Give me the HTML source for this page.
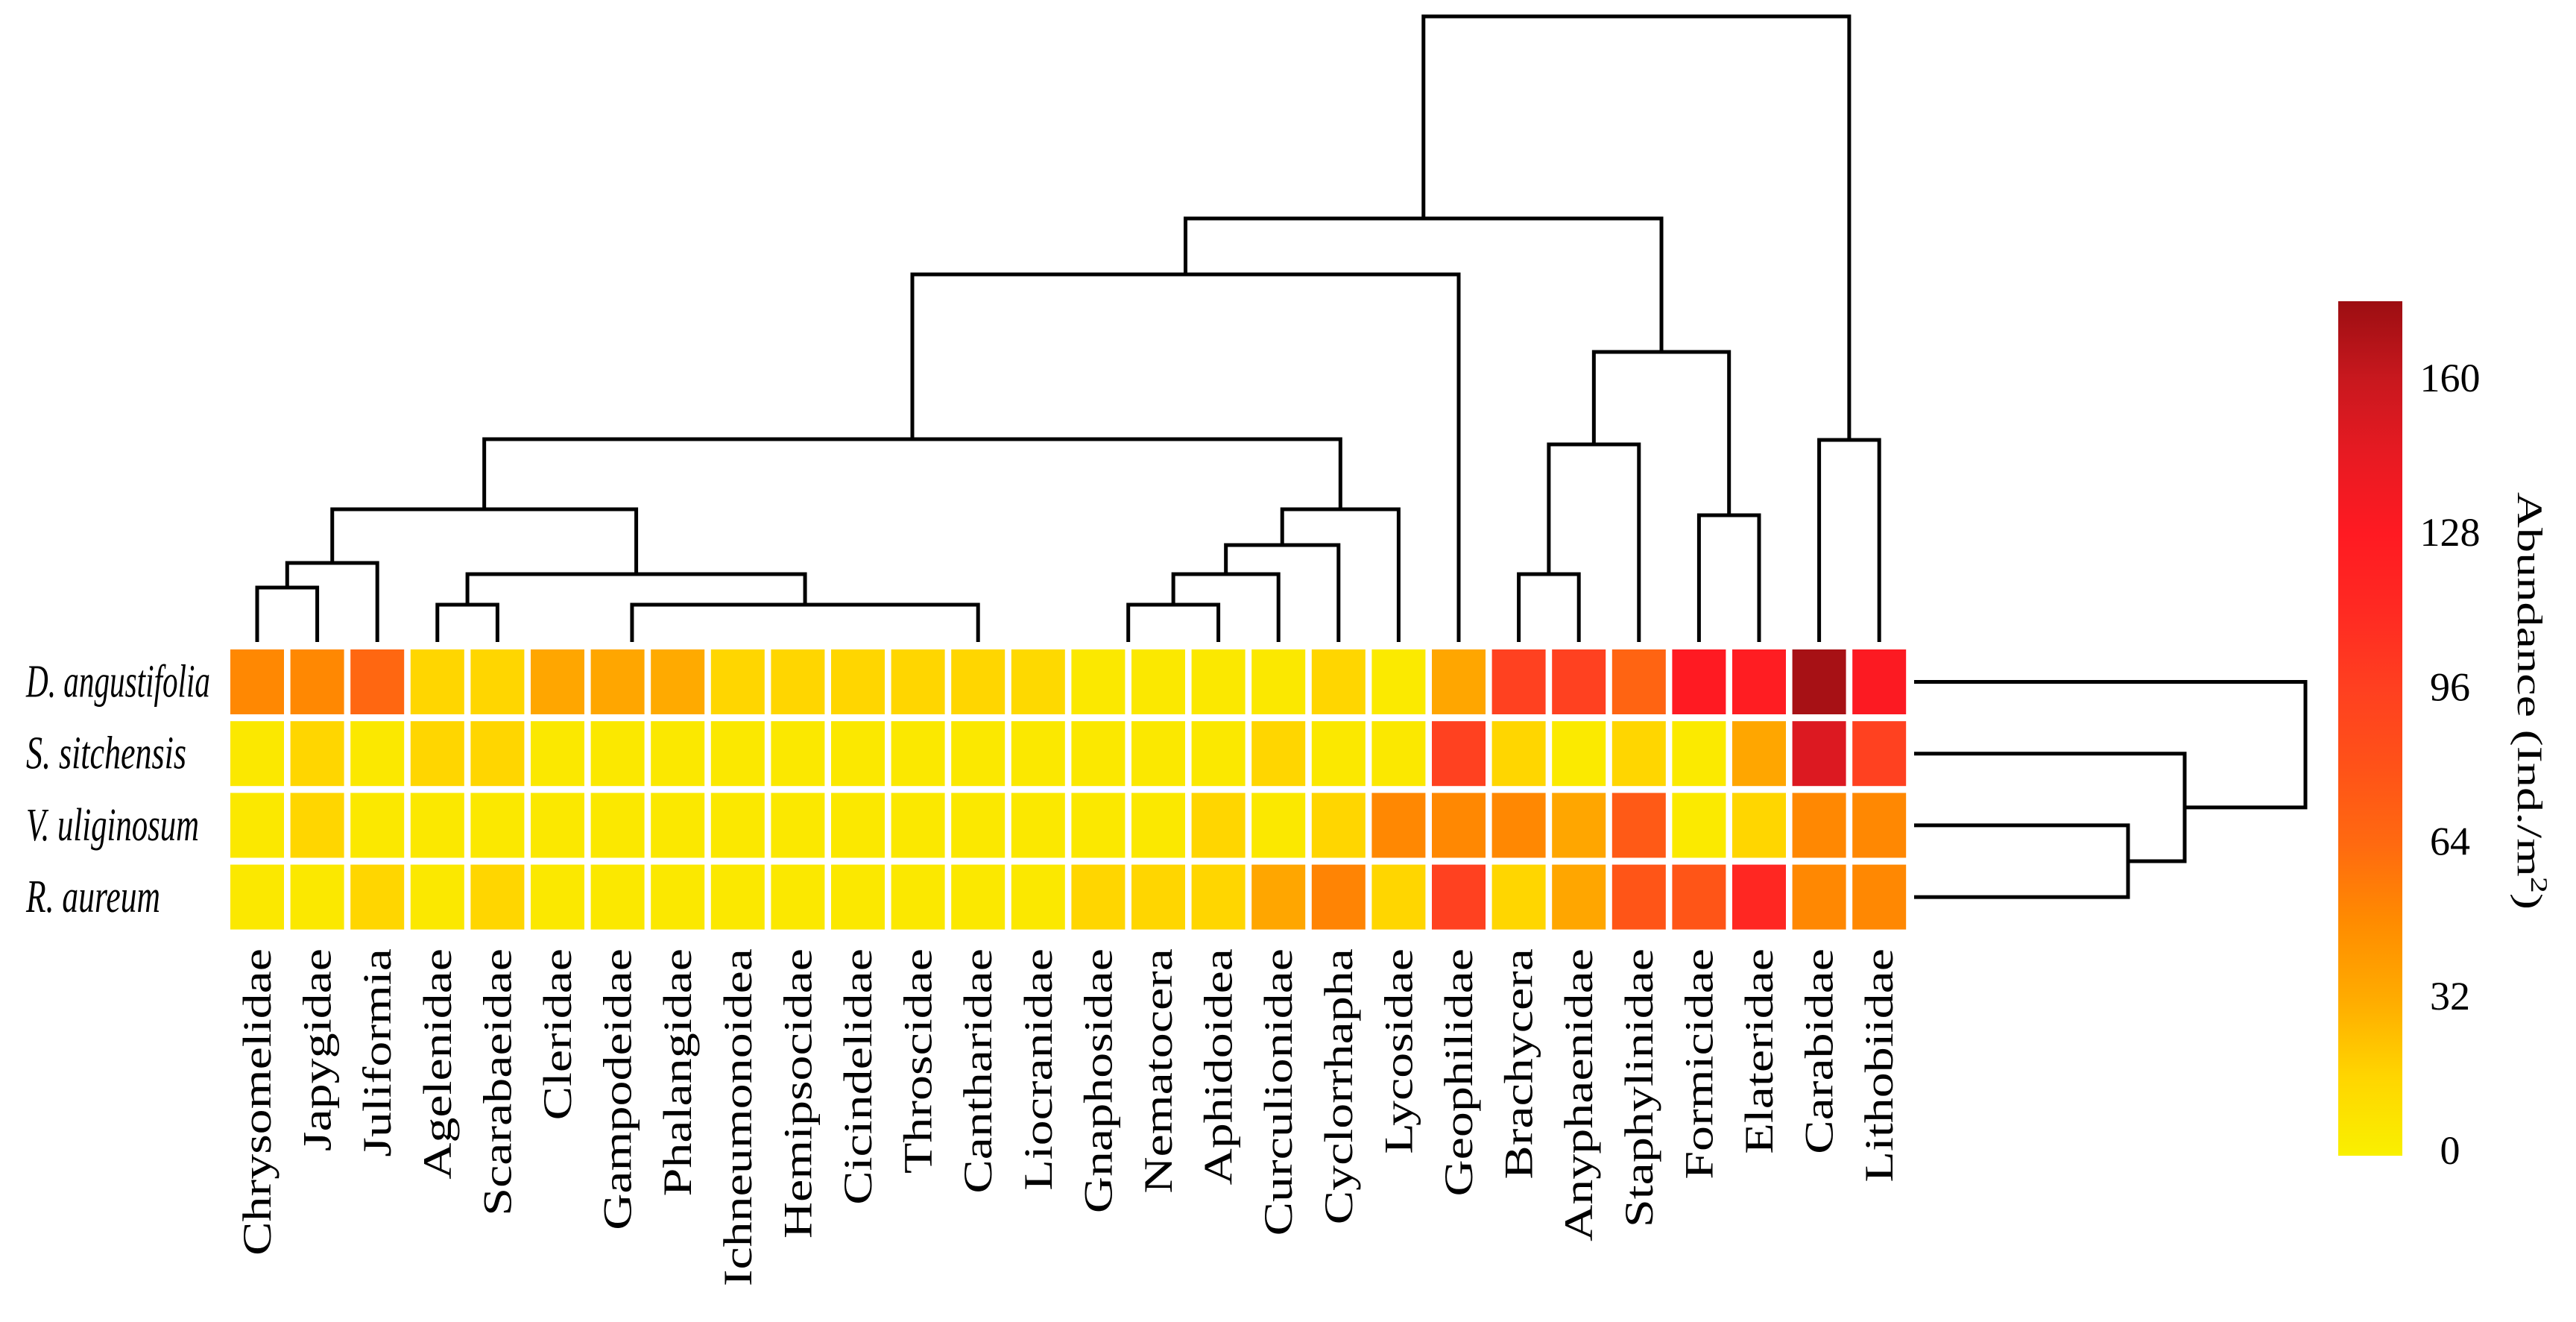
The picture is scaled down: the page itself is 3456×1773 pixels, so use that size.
<!DOCTYPE html>
<html><head><meta charset="utf-8"><style>
html,body{margin:0;padding:0;background:#fff;}
svg{display:block;}
text{font-family:"Liberation Serif",serif;fill:#000;}
</style></head>
<body>
<svg id="chart" width="3456" height="1773" viewBox="0 0 3456 1773" xmlns="http://www.w3.org/2000/svg">
<defs>
<linearGradient id="cbgrad" x1="0" y1="1" x2="0" y2="0"></linearGradient>
</defs>
<g id="dendro-top"></g>
<g id="dendro-side"></g>
<g id="cells"></g>
<g id="rowlabels"></g>
<g id="collabels"></g>
<g id="colorbar"></g>
</svg>
<script>
const categories = ["Chrysomelidae","Japygidae","Juliformia","Agelenidae","Scarabaeidae","Cleridae","Gampodeidae","Phalangidae","Ichneumonoidea","Hemipsocidae","Cicindelidae","Throscidae","Cantharidae","Liocranidae","Gnaphosidae","Nematocera","Aphidoidea","Curculionidae","Cyclorrhapha","Lycosidae","Geophilidae","Brachycera","Anyphaenidae","Staphylinidae","Formicidae","Elateridae","Carabidae","Lithobiidae"];
const rowNames = ["D. angustifolia","S. sitchensis","V. uliginosum","R. aureum"];
const valuesD = [50,50,66,16,16,35,35,33,16,16,16,16,16,14,5,5,5,5,16,4,35,95,95,68,128,125,172,130];
const valuesS = [5,16,5,16,16,5,5,5,5,5,5,5,5,5,5,5,5,16,5,5,95,16,4,16,4,35,150,95];
const valuesV = [5,16,5,5,5,5,5,5,5,5,5,5,5,5,5,5,16,5,16,50,50,50,35,75,4,16,50,50];
const valuesR = [5,5,16,5,16,5,5,5,5,5,5,5,5,5,16,16,16,35,52,16,95,16,35,78,78,115,50,50];
const colorTicks = [0,32,64,96,128,160];
const colorMax = 176;
const colMerges = [
 [0,1,73],[ "n0",2,106],[3,4,50],[6.24,12,50],["n2","n3",91],["n1","n4",178],
 [14.5,16,50],["n6",17,91],["n7",18,130],["n8",19,178],["n5","n9",272],["n10",20,493],
 [21,22,91],["n12",23,265],[24,25,170],["n13","n14",389],[26,27,271],["n11","n15",568],["n16","n17",839]
];
const rowMerges = [[2,3,287],["n0",1,363],["n1",0,525]];

const NS="http://www.w3.org/2000/svg";
function mk(tag,attrs,parent){const e=document.createElementNS(NS,tag);for(const k in attrs)e.setAttribute(k,attrs[k]);parent.appendChild(e);return e;}

const stops=[[0,"#f9f000"],[16,"#ffd600"],[32,"#ffac00"],[48,"#ff8c00"],[64,"#ff6a10"],[80,"#ff5218"],[96,"#ff4020"],[112,"#ff2a22"],[128,"#ff1a22"],[144,"#e81a22"],[160,"#c8181e"],[176,"#9c0e12"]];
function hex(c){return [1,3,5].map(i=>parseInt(c.substr(i,2),16));}
function colorScale(v){
  v=Math.max(0,Math.min(colorMax,v));
  for(let i=0;i<stops.length-1;i++){
    const [a,ca]=stops[i],[b,cb]=stops[i+1];
    if(v<=b){const t=(v-a)/(b-a);const A=hex(ca),B=hex(cb);
      return "rgb("+A.map((x,j)=>Math.round(x+(B[j]-x)*t)).join(",")+")";}
  }
  return stops[stops.length-1][1];
}

const X0=309, PITCH=80.6, CW=72;
const Y0=871, RPITCH=96.2, RH=87;
const xCenter=i=>X0+CW/2+PITCH*i;
const yCenter=r=>Y0+RH/2+RPITCH*r;

const rows=[valuesD,valuesS,valuesV,valuesR];
const cellsG=document.getElementById('cells');
rows.forEach((vals,r)=>{
  vals.forEach((v,i)=>{
    const c=mk('rect',{x:X0+PITCH*i,y:Y0+RPITCH*r,width:CW,height:RH,fill:colorScale(v)},cellsG);
    
    
  });
});

const rl=document.getElementById('rowlabels');
rowNames.forEach((n,r)=>{
  const t=mk('text',{x:0,y:0,'font-size':36,'font-style':'italic',textLength:[247,215,232,180][r],lengthAdjust:'spacingAndGlyphs',transform:`translate(35,${yCenter(r)+20}) scale(1,1.75)`},rl);
  t.textContent=n;
  
  
});

const cl=document.getElementById('collabels');
categories.forEach((n,i)=>{
  const t=mk('text',{x:0,y:0,'font-size':54,'text-anchor':'end',transform:`translate(${xCenter(i)+18},1272) rotate(-90) scale(1.26,1)`},cl);
  t.textContent=n;
  
  
});

const BASE=861;
const dt=document.getElementById('dendro-top');
const nodes=[];
function info(ref){
  if(typeof ref==="string"){return nodes[parseInt(ref.slice(1))];}
  return {x:xCenter(ref),y:BASE};
}
colMerges.forEach(([a,b,h])=>{
  const A=info(a),B=info(b),y=BASE-h;
  const p=mk('path',{d:`M${A.x},${A.y}V${y}H${B.x}V${B.y}`,fill:'none',stroke:'#000','stroke-width':5},dt);
  
  
  nodes.push({x:(A.x+B.x)/2,y:y});
});

const RBASE=2568;
const ds=document.getElementById('dendro-side');
const rnodes=[];
function rinfo(ref){
  if(typeof ref==="string"){return rnodes[parseInt(ref.slice(1))];}
  return {x:RBASE,y:yCenter(ref)};
}
rowMerges.forEach(([a,b,d])=>{
  const A=rinfo(a),B=rinfo(b),x=RBASE+d;
  const p=mk('path',{d:`M${A.x},${A.y}H${x}V${B.y}H${B.x}`,fill:'none',stroke:'#000','stroke-width':5},ds);
  
  
  rnodes.push({x:x,y:(A.y+B.y)/2});
});

const grad=document.getElementById('cbgrad');
stops.forEach(([v,c])=>{mk('stop',{offset:(v/colorMax),'stop-color':c},grad);});
const cb=document.getElementById('colorbar');
const CBT=404, CBB=1550, CBX=3137, CBW=86;
const cbY=v=>1543-(1543-507)*v/160;
const bar=mk('rect',{x:CBX,y:CBT,width:CBW,height:CBB-CBT,fill:'url(#cbgrad)'},cb);


colorTicks.forEach(v=>{
  const t=mk('text',{x:3287,y:cbY(v)+18,'font-size':54,'text-anchor':'middle'},cb);
  t.textContent=String(v);
  
  
});
const title=mk('text',{x:0,y:0,'font-size':48,'text-anchor':'middle',textLength:560,lengthAdjust:'spacingAndGlyphs',transform:'translate(3378,940) rotate(90)'},cb);


title.innerHTML='Abundance (Ind./m<tspan dy="-18" font-size="32">2</tspan><tspan dy="18">)</tspan>';
</script>
</body></html>
